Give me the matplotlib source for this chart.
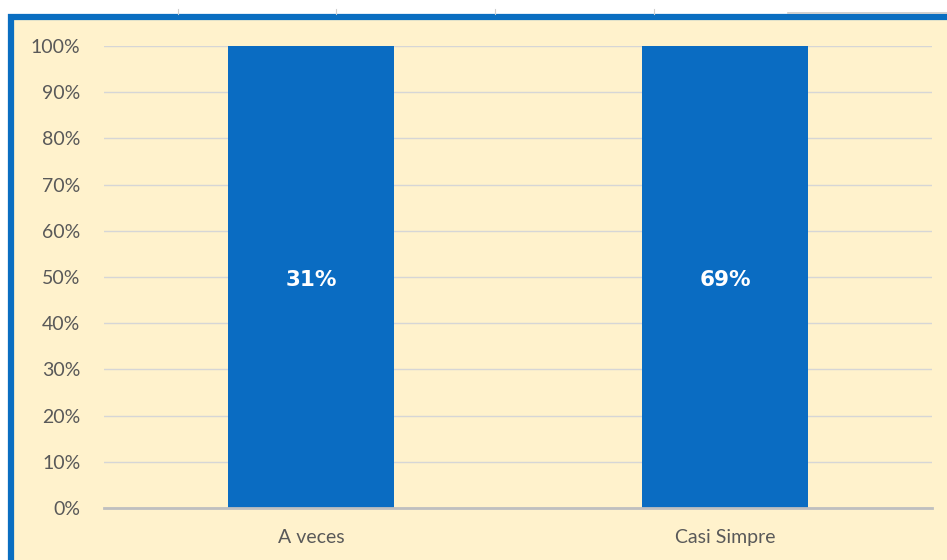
import numpy as np
import matplotlib as mpl
mpl.use('Agg')
import matplotlib.pyplot as plt
from matplotlib.patches import Rectangle
from matplotlib.lines import Line2D
from matplotlib.ticker import PercentFormatter

plt.rcParams['font.family'] = ['Lato', 'DejaVu Sans']

# data
categories = ['A veces', 'Casi Simpre']
counts = [31, 69]          # per cent of answers
series_totals = counts     # single series -> every stack is its own total

W, H = 947, 560
fig = plt.figure(figsize=(W / 100, H / 100), dpi=100)
fig.patch.set_facecolor('white')

# chart panel (cream with blue frame)
panel = Rectangle((11 / W, 0 - 0.02), 1.0, (H - 16.5) / H + 0.02,
                  transform=fig.transFigure, facecolor='#FFF2CC',
                  edgecolor='#0A6EC1', linewidth=4.5, zorder=-1)
fig.patches.append(panel)

# faint artefacts above the panel
for xp in [178, 336, 495, 654]:
    fig.add_artist(Line2D([xp / W, xp / W], [(H - 9) / H, (H - 14) / H],
                          transform=fig.transFigure, color='#D0D0D0', lw=0.8))
fig.add_artist(Line2D([788 / W, 1.0], [(H - 13) / H, (H - 13) / H],
                      transform=fig.transFigure, color='#C8C8C8', lw=1.2))

ax = fig.add_axes([104 / W, (H - 508) / H, (932 - 104) / W, (508 - 46) / H])
ax.set_zorder(2)
ax.set_facecolor('none')

x = np.arange(len(categories))
share = np.array(counts) / np.array(series_totals)
ax.bar(x, share, width=0.4, color='#0A6CC2', zorder=2)

for xi, s, c in zip(x, share, counts):
    ax.text(xi, s / 2 - 0.007, '{:d}%'.format(c), ha='center', va='center',
            color='white', fontsize=15.5, fontweight='bold',
            family='DejaVu Sans', zorder=3)

ax.set_xlim(-0.5, len(categories) - 0.5)
ax.set_ylim(0, 1)
ax.set_yticks(np.arange(0, 1.01, 0.1))
ax.yaxis.set_major_formatter(PercentFormatter(1.0, decimals=0))
ax.set_xticks(x)
ax.set_xticklabels(categories)

ax.yaxis.grid(True, color='#D6D6D6', lw=1.0, zorder=1)
ax.set_axisbelow(True)
for side in ['top', 'right', 'left']:
    ax.spines[side].set_visible(False)
ax.spines['bottom'].set_color('#BFBFBF')
ax.spines['bottom'].set_linewidth(2)
ax.spines['bottom'].set_zorder(4)

ax.tick_params(axis='both', length=0, colors='#595959', labelsize=14)
ax.tick_params(axis='y', pad=17)
ax.tick_params(axis='x', pad=15)

fig.savefig('out.png', dpi=100)
